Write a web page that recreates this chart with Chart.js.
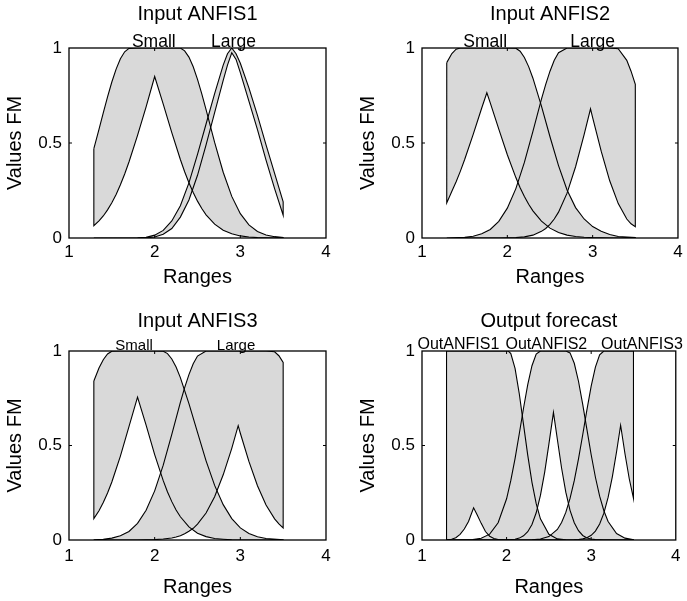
<!DOCTYPE html>
<html lang="en">
<head>
<meta charset="UTF-8">
<title>Input ANFIS / Output forecast membership functions</title>
<style>
  body { margin: 0; background: #fff; }
  #wrap { position: relative; width: 687px; height: 601px; }
  canvas { position: absolute; }
</style>
<script src="https://cdn.jsdelivr.net/npm/chart.js@4"></script>
</head>
<body>
<div id="wrap">
  <canvas id="in1" width="343" height="300" style="left:0;top:0"></canvas>
  <canvas id="in2" width="344" height="300" style="left:343px;top:0"></canvas>
  <canvas id="in3" width="343" height="301" style="left:0;top:300px"></canvas>
  <canvas id="out" width="344" height="301" style="left:343px;top:300px"></canvas>
</div>
<script>
// Input ANFIS1
const in1SmallX     = [1.29, 1.35, 1.4, 1.45, 1.5, 1.55, 1.6, 1.65, 1.7, 1.8, 1.9, 2.0, 2.1, 2.2, 2.3, 2.35, 2.4, 2.45, 2.5, 2.55, 2.6, 2.7, 2.8, 2.9, 3.0, 3.1, 3.2, 3.3, 3.4, 3.5];
const in1SmallUpper = [0.47, 0.572, 0.658, 0.743, 0.821, 0.889, 0.943, 0.98, 0.998, 1, 1, 1, 1, 1, 1, 0.985, 0.952, 0.901, 0.835, 0.759, 0.676, 0.503, 0.346, 0.219, 0.128, 0.069, 0.034, 0.016, 0.007, 0.003];
const in1SmallLower = [0.065, 0.09, 0.116, 0.148, 0.185, 0.229, 0.28, 0.337, 0.4, 0.54, 0.69, 0.85, 0.705, 0.555, 0.413, 0.349, 0.291, 0.239, 0.194, 0.155, 0.122, 0.073, 0.041, 0.022, 0.011, 0.005, 0.002, 0.001, 0, 0];
const in1LargeX     = [1.29, 1.8, 1.9, 2.0, 2.1, 2.2, 2.3, 2.4, 2.5, 2.6, 2.7, 2.8, 2.85, 2.9, 2.95, 3.0, 3.1, 3.2, 3.3, 3.4, 3.5];
const in1LargeUpper = [0, 0.001, 0.004, 0.015, 0.04, 0.09, 0.17, 0.29, 0.44, 0.6, 0.76, 0.91, 0.97, 1, 0.97, 0.92, 0.79, 0.645, 0.49, 0.34, 0.19];
const in1LargeLower = [0, 0, 0.001, 0.005, 0.02, 0.05, 0.11, 0.2, 0.33, 0.49, 0.66, 0.83, 0.91, 0.975, 0.94, 0.87, 0.72, 0.57, 0.41, 0.26, 0.12];

// Input ANFIS2
const in2SmallX     = [1.29, 1.35, 1.4, 1.45, 1.5, 1.6, 1.7, 1.76, 1.8, 1.9, 2.0, 2.1, 2.15, 2.2, 2.25, 2.3, 2.4, 2.5, 2.6, 2.7, 2.8, 2.9, 3.0, 3.1, 3.2, 3.3, 3.5];
const in2SmallUpper = [0.923, 0.971, 0.994, 1, 1, 1, 1, 1, 1, 1, 1, 0.999, 0.983, 0.95, 0.902, 0.841, 0.694, 0.533, 0.381, 0.253, 0.16, 0.1, 0.06, 0.035, 0.018, 0.008, 0.002];
const in2SmallLower = [0.185, 0.246, 0.296, 0.352, 0.413, 0.545, 0.684, 0.764, 0.711, 0.573, 0.438, 0.318, 0.265, 0.219, 0.178, 0.143, 0.089, 0.052, 0.029, 0.015, 0.008, 0.004, 0.002, 0.001, 0, 0, 0];
const in2LargeX     = [1.29, 1.5, 1.6, 1.7, 1.8, 1.9, 2.0, 2.1, 2.2, 2.3, 2.4, 2.45, 2.5, 2.55, 2.6, 2.7, 2.8, 2.9, 2.975, 3.0, 3.1, 3.2, 3.3, 3.4, 3.45, 3.5];
const in2LargeUpper = [0, 0.004, 0.009, 0.022, 0.045, 0.088, 0.157, 0.26, 0.398, 0.561, 0.731, 0.809, 0.878, 0.935, 0.975, 1, 1, 1, 1, 1, 1, 1, 0.996, 0.935, 0.878, 0.809];
const in2LargeLower = [0, 0, 0, 0, 0, 0, 0.001, 0.002, 0.006, 0.015, 0.035, 0.05, 0.072, 0.1, 0.136, 0.236, 0.375, 0.544, 0.68, 0.634, 0.457, 0.301, 0.181, 0.1, 0.075, 0.06];

// Input ANFIS3
const in3SmallX     = [1.29, 1.35, 1.4, 1.45, 1.5, 1.6, 1.7, 1.8, 1.9, 2.0, 2.1, 2.15, 2.2, 2.25, 2.3, 2.4, 2.5, 2.6, 2.7, 2.8, 2.9, 3.0, 3.1, 3.2, 3.3, 3.5];
const in3SmallUpper = [0.841, 0.91, 0.954, 0.984, 0.999, 1, 1, 1, 1, 1, 0.999, 0.986, 0.958, 0.915, 0.859, 0.722, 0.569, 0.419, 0.289, 0.187, 0.113, 0.064, 0.034, 0.017, 0.008, 0.001];
const in3SmallLower = [0.113, 0.155, 0.198, 0.249, 0.307, 0.444, 0.6, 0.756, 0.608, 0.452, 0.314, 0.254, 0.203, 0.159, 0.123, 0.069, 0.036, 0.018, 0.008, 0.004, 0.001, 0, 0, 0, 0, 0];
const in3LargeX     = [1.29, 1.4, 1.5, 1.6, 1.7, 1.8, 1.9, 2.0, 2.1, 2.2, 2.25, 2.3, 2.35, 2.4, 2.45, 2.5, 2.6, 2.7, 2.8, 2.9, 2.975, 3.0, 3.1, 3.2, 3.3, 3.4, 3.45, 3.5];
const in3LargeUpper = [0.001, 0.004, 0.01, 0.022, 0.045, 0.088, 0.157, 0.26, 0.396, 0.559, 0.644, 0.728, 0.806, 0.875, 0.932, 0.973, 1, 1, 1, 1, 1, 1, 1, 1, 1, 0.996, 0.975, 0.94];
const in3LargeLower = [0, 0, 0, 0, 0, 0, 0.001, 0.002, 0.005, 0.011, 0.016, 0.023, 0.033, 0.046, 0.062, 0.084, 0.143, 0.229, 0.345, 0.485, 0.605, 0.565, 0.416, 0.287, 0.185, 0.112, 0.085, 0.064];

// Output forecast
const out1X     = [1.29, 1.35, 1.4, 1.45, 1.5, 1.55, 1.61, 1.65, 1.7, 1.75, 1.8, 1.85, 1.9, 2.0, 2.02, 2.05, 2.1, 2.15, 2.2, 2.25, 2.3, 2.35, 2.4, 2.5, 2.6, 2.7, 2.8, 3.0, 3.5];
const out1Upper = [1, 1, 1, 1, 1, 1, 1, 1, 1, 1, 1, 1, 1, 1, 1, 0.986, 0.908, 0.774, 0.612, 0.449, 0.305, 0.192, 0.112, 0.03, 0.006, 0.001, 0, 0, 0];
const out1Lower = [0, 0.004, 0.012, 0.03, 0.058, 0.098, 0.17, 0.135, 0.088, 0.045, 0.02, 0.008, 0.003, 0, 0, 0, 0, 0, 0, 0, 0, 0, 0, 0, 0, 0, 0, 0, 0];
const out2X     = [1.29, 1.6, 1.7, 1.8, 1.9, 2.0, 2.05, 2.1, 2.15, 2.2, 2.25, 2.3, 2.35, 2.4, 2.45, 2.5, 2.554, 2.6, 2.65, 2.7, 2.75, 2.8, 2.85, 2.9, 2.95, 3.0, 3.05, 3.1, 3.15, 3.2, 3.3, 3.4, 3.5];
const out2Upper = [0, 0.002, 0.009, 0.031, 0.091, 0.218, 0.315, 0.431, 0.562, 0.697, 0.822, 0.922, 0.984, 1, 1, 1, 1, 1, 1, 1, 0.99, 0.935, 0.84, 0.718, 0.584, 0.451, 0.332, 0.232, 0.155, 0.098, 0.034, 0.01, 0.002];
const out2Lower = [0, 0, 0, 0, 0, 0.001, 0.002, 0.004, 0.01, 0.022, 0.044, 0.082, 0.144, 0.236, 0.358, 0.507, 0.675, 0.533, 0.381, 0.253, 0.157, 0.091, 0.049, 0.024, 0.011, 0.005, 0.002, 0.001, 0, 0, 0, 0, 0];
const out3X     = [1.29, 2.2, 2.3, 2.4, 2.5, 2.6, 2.65, 2.7, 2.75, 2.8, 2.85, 2.9, 2.95, 3.0, 3.05, 3.1, 3.15, 3.2, 3.25, 3.3, 3.348, 3.4, 3.45, 3.5];
const out3Upper = [0, 0, 0.001, 0.005, 0.018, 0.056, 0.093, 0.146, 0.22, 0.314, 0.429, 0.557, 0.69, 0.814, 0.915, 0.98, 1, 1, 1, 1, 1, 1, 1, 1];
const out3Lower = [0, 0, 0, 0, 0, 0, 0, 0, 0, 0.001, 0.003, 0.006, 0.012, 0.025, 0.047, 0.085, 0.142, 0.225, 0.334, 0.467, 0.607, 0.455, 0.324, 0.22];

// set names and where they sit along the top edge
const inNames   = ['Small', 'Large'];
const in1NameX  = [1.99, 2.92];
const in2NameX  = [1.74, 3.0];
const in3NameX  = [1.76, 2.95];
const outNames  = ['OutANFIS1', 'OutANFIS2', 'OutANFIS3'];
const outNameX  = [1.43, 2.47, 3.6];

const FONT = '"Liberation Sans", Arial, Helvetica, sans-serif';
Chart.defaults.font.family = FONT;
Chart.defaults.color = '#000';

// upper curve forward, lower curve back -> closed footprint
function footprint(xs, upper, lower) {
    const pts = xs.map((x, i) => ({x: x, y: upper[i]}));
    for (let i = xs.length - 1; i >= 0; i--) {
        pts.push({x: xs[i], y: lower[i]});
    }
    pts.push(pts[0]);
    return {
        data: pts,
        fill: 'shape',
        backgroundColor: '#d9d9d9',
        borderColor: '#000',
        borderWidth: 1.1,
        pointRadius: 0,
        tension: 0
    };
}

// box with inward ticks + set names above the box
const framePlugin = {
    id: 'frame',
    afterDatasetsDraw(chart, args, opts) {
        const {ctx, chartArea: a, scales} = chart;
        ctx.save();
        ctx.strokeStyle = '#000';
        ctx.lineWidth = 1.3;
        ctx.strokeRect(a.left, a.top, a.right - a.left, a.bottom - a.top);
        ctx.lineWidth = 1;
        ctx.beginPath();
        scales.x.ticks.forEach(t => {
            const px = scales.x.getPixelForValue(t.value);
            if (px < a.left + 2 || px > a.right - 2) return;
            ctx.moveTo(px, a.bottom); ctx.lineTo(px, a.bottom - 3);
            ctx.moveTo(px, a.top); ctx.lineTo(px, a.top + 3);
        });
        scales.y.ticks.forEach(t => {
            const py = scales.y.getPixelForValue(t.value);
            if (py < a.top + 2 || py > a.bottom - 2) return;
            ctx.moveTo(a.left, py); ctx.lineTo(a.left + 3, py);
            ctx.moveTo(a.right, py); ctx.lineTo(a.right - 3, py);
        });
        ctx.stroke();

        ctx.fillStyle = '#000';
        ctx.font = opts.size + 'px ' + FONT;
        ctx.textAlign = 'center';
        ctx.textBaseline = 'alphabetic';
        opts.names.forEach((name, i) => {
            ctx.fillText(name, scales.x.getPixelForValue(opts.at[i]), a.top - opts.lift);
        });
        ctx.restore();
    }
};

function makeChart(id, title, sets, names, at, L) {
    new Chart(document.getElementById(id), {
        type: 'line',
        data: {datasets: sets},
        options: {
            responsive: false,
            animation: false,
            events: [],
            layout: {padding: {left: 0, right: L.padRight, top: 0, bottom: 0}},
            plugins: {
                legend: {display: false},
                tooltip: {enabled: false},
                filler: {propagate: false, drawTime: 'beforeDatasetsDraw'},
                title: {
                    display: true,
                    fullSize: false,   // centre over the plot box, not the canvas
                    text: title,
                    font: {size: 20, weight: 'normal'},
                    padding: {top: L.titleTop, bottom: L.titleBottom}
                },
                frame: {names: names, at: at, size: L.nameSize, lift: L.nameLift}
            },
            scales: {
                x: {
                    type: 'linear',
                    min: 1, max: 4,
                    ticks: {stepSize: 1, padding: L.xTickPad, font: {size: 17},
                            callback: v => String(v)},
                    grid: {display: false, drawTicks: false},
                    border: {display: false},
                    title: {display: true, text: 'Ranges', font: {size: 20},
                            padding: {top: 0, bottom: L.xTitlePad}},
                    afterFit: s => { s.height = L.axisH; }
                },
                y: {
                    type: 'linear',
                    min: 0, max: 1,
                    ticks: {stepSize: 0.5, padding: 7, font: {size: 17},
                            callback: v => String(v)},
                    grid: {display: false, drawTicks: false},
                    border: {display: false},
                    title: {display: true, text: 'Values FM', font: {size: 20},
                            padding: {top: L.yTitlePad, bottom: 0}},
                    afterFit: s => { s.width = L.axisW; }
                }
            }
        },
        plugins: [framePlugin]
    });
}

const topLeft  = {axisW: 69, padRight: 17, titleTop: 2, titleBottom: 22, axisH: 62, xTickPad: 4.3, xTitlePad: 10.7, yTitlePad: 3.8, nameSize: 17.5, nameLift: 1.5};
const topRight = Object.assign({}, topLeft, {axisW: 79, padRight: 9, yTitlePad: 13.8});
const botLeft  = {axisW: 69, padRight: 17, titleTop: 9.7, titleBottom: 17.3, axisH: 61, xTickPad: 6.5, xTitlePad: 1.5, yTitlePad: 3.8, nameSize: 15, nameLift: 1};
const botRight = Object.assign({}, botLeft, {axisW: 79, padRight: 9, yTitlePad: 13.8, nameSize: 16, nameLift: 1.7});

makeChart('in1', 'Input ANFIS1', [
    footprint(in1SmallX, in1SmallUpper, in1SmallLower),
    footprint(in1LargeX, in1LargeUpper, in1LargeLower)
], inNames, in1NameX, topLeft);

makeChart('in2', 'Input ANFIS2', [
    footprint(in2SmallX, in2SmallUpper, in2SmallLower),
    footprint(in2LargeX, in2LargeUpper, in2LargeLower)
], inNames, in2NameX, topRight);

makeChart('in3', 'Input ANFIS3', [
    footprint(in3SmallX, in3SmallUpper, in3SmallLower),
    footprint(in3LargeX, in3LargeUpper, in3LargeLower)
], inNames, in3NameX, botLeft);

makeChart('out', 'Output forecast', [
    footprint(out1X, out1Upper, out1Lower),
    footprint(out2X, out2Upper, out2Lower),
    footprint(out3X, out3Upper, out3Lower)
], outNames, outNameX, botRight);
</script>
</body>
</html>
